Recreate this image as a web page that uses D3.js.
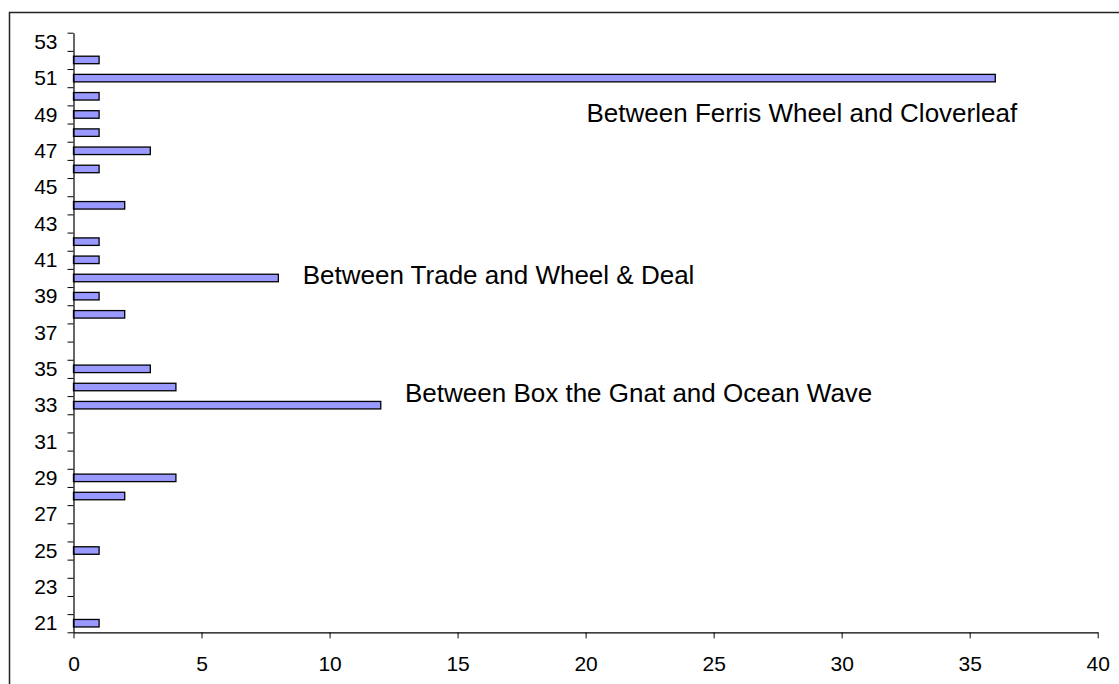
<!DOCTYPE html>
<html>
<head>
<meta charset="utf-8">
<script src="https://cdn.jsdelivr.net/npm/d3@7"></script>
<style>
  html, body { margin: 0; padding: 0; background: #fff; }
  svg { display: block; }
  text { font-family: "Liberation Sans", Arial, sans-serif; fill: #000; }
</style>
</head>
<body>
<svg id="chart" width="1119" height="684"></svg>
<script>
// ---- data ----
const categories = [21,22,23,24,25,26,27,28,29,30,31,32,33,34,35,36,37,38,39,40,41,42,43,44,45,46,47,48,49,50,51,52,53];
const values     = [ 1, 0, 0, 0, 1, 0, 0, 2, 4, 0, 0, 0,12, 4, 3, 0, 0, 2, 1, 8, 1, 1, 0, 2, 0, 1, 3, 1, 1, 1,36, 1, 0];
const xTickValues = [0,5,10,15,20,25,30,35,40];
const yTickLabels = [21,23,25,27,29,31,33,35,37,39,41,43,45,47,49,51,53];
const annotations = [
  "Between Ferris Wheel and Cloverleaf",
  "Between Trade and Wheel & Deal",
  "Between Box the Gnat and Ocean Wave"
];

(function () {
  const svg = d3.select("#chart");
  const pL = 73.5, pR = 1097.7, pT = 32.7, pB = 632.3;
  const barH = 7.5;

  const x = d3.scaleLinear().domain([0, 40]).range([pL, pR]);
  const y = d3.scaleLinear().domain([20.5, 53.5]).range([pB, pT]);

  // outer frame (only top and left edges visible)
  svg.append("rect")
    .attr("x", 9.5).attr("y", 12.5)
    .attr("width", 2000).attr("height", 2000)
    .attr("fill", "none").attr("stroke", "#222").attr("stroke-width", 1.5);

  // bars
  const data = categories.map((c, i) => ({ c, v: values[i] })).filter(d => d.v > 0);
  svg.append("g").selectAll("rect").data(data).join("rect")
    .attr("x", x(0))
    .attr("y", d => y(d.c) - barH / 2)
    .attr("width", d => x(d.v) - x(0))
    .attr("height", barH)
    .attr("fill", "#9999FF")
    .attr("stroke", "#000")
    .attr("stroke-width", 1.3);

  // y axis: ticks at band boundaries
  const boundaries = d3.range(20.5, 54, 1);
  const yTicks = svg.append("g").attr("transform", `translate(${pL},0)`)
    .call(d3.axisLeft(y).tickValues(boundaries).tickSize(6).tickFormat("").tickSizeOuter(0));
  yTicks.select(".domain").attr("stroke", "#000").attr("stroke-width", 1.2);
  yTicks.selectAll(".tick line").attr("stroke", "#000");

  // y labels
  const yLab = svg.append("g").attr("transform", `translate(${pL},0)`)
    .call(d3.axisLeft(y).tickValues(yTickLabels).tickSize(0).tickPadding(16).tickFormat(d3.format("d")));
  yLab.select(".domain").remove();
  yLab.selectAll("text").attr("font-size", 21).attr("font-family", "Liberation Sans, Arial, sans-serif");

  // x axis
  const xAx = svg.append("g").attr("transform", `translate(0,${pB})`)
    .call(d3.axisBottom(x).tickValues(xTickValues).tickSize(6).tickPadding(18).tickSizeOuter(0));
  xAx.select(".domain").attr("stroke", "#000").attr("stroke-width", 1.2);
  xAx.selectAll(".tick line").attr("stroke", "#000");
  xAx.selectAll("text").attr("font-size", 21).attr("font-family", "Liberation Sans, Arial, sans-serif");

  // annotations
  const annPos = [[586.5, 122.3], [302.7, 283.5], [405, 402]];
  svg.append("g").selectAll("text").data(annotations).join("text")
    .attr("x", (d, i) => annPos[i][0])
    .attr("y", (d, i) => annPos[i][1])
    .attr("font-size", 26)
    .text(d => d);
})();
</script>
</body>
</html>
